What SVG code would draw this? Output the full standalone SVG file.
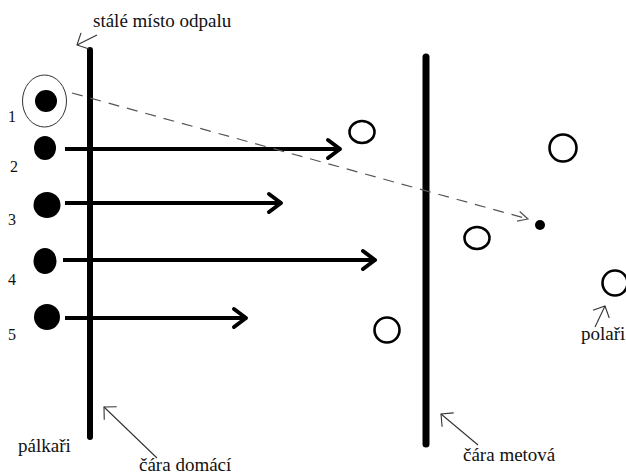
<svg xmlns="http://www.w3.org/2000/svg" width="626" height="474" viewBox="0 0 626 474">
<style>
.lbl{font-size:19px}
.num{font-size:16px}
.bat{fill:#000}
.fld{fill:none;stroke:#000;stroke-width:2.6}
.bar{stroke:#000;stroke-linecap:round}
.hit{stroke:#000;stroke-width:4;fill:none}
.note{stroke:#333;stroke-width:1.1;fill:none}
.dash{stroke:#555;stroke-width:1.2;stroke-dasharray:11 8;fill:none}
</style>
<defs>
<marker id="thick" viewBox="-16 -12 20 24" markerWidth="20" markerHeight="24" refX="0" refY="0" markerUnits="userSpaceOnUse" orient="auto">
<path d="M-12,-9 L0,0 L-12,9" fill="none" stroke="#000" stroke-width="4" stroke-linecap="round" stroke-linejoin="round"/>
</marker>
<marker id="thin" viewBox="-12 -12 14 24" markerWidth="14" markerHeight="24" refX="0" refY="0" markerUnits="userSpaceOnUse" orient="auto">
<path d="M-9,-9 L0,0 L-9,9" fill="none" stroke="#333" stroke-width="1.1"/>
</marker>
<marker id="dashhead" viewBox="-12 -8 14 16" markerWidth="14" markerHeight="16" refX="0" refY="0" markerUnits="userSpaceOnUse" orient="auto">
<path d="M-10,-5 L0,0 L-10,5" fill="none" stroke="#555" stroke-width="1.2"/>
</marker>
</defs>

<g id="lines">
<line id="cara-domaci" class="bar" x1="90" y1="50" x2="90" y2="437" stroke-width="6"/>
<line id="cara-metova" class="bar" x1="426" y1="57" x2="426" y2="444" stroke-width="7"/>
</g>

<g font-family="Liberation Serif, DejaVu Serif, serif" fill="#111">
<g id="batter-1">
<ellipse cx="44.5" cy="101" rx="22" ry="26" fill="none" stroke="#333" stroke-width="1"/>
<ellipse class="bat" cx="46" cy="101" rx="11" ry="11"/>
<text class="num" x="8" y="122">1</text>
</g>
<g id="batter-2">
<ellipse class="bat" cx="45" cy="148" rx="11" ry="12"/>
<text class="num" x="10" y="172">2</text>
</g>
<g id="batter-3">
<ellipse class="bat" cx="47" cy="205" rx="13.5" ry="13"/>
<text class="num" x="8" y="225">3</text>
</g>
<g id="batter-4">
<ellipse class="bat" cx="45" cy="261" rx="11.5" ry="13"/>
<text class="num" x="8" y="285">4</text>
</g>
<g id="batter-5">
<ellipse class="bat" cx="47" cy="317" rx="13" ry="13"/>
<text class="num" x="8" y="340">5</text>
</g>
</g>

<g id="fielders">
<ellipse class="fld" cx="362" cy="132" rx="12.5" ry="11"/>
<ellipse class="fld" cx="563" cy="148" rx="13.5" ry="13.5"/>
<ellipse class="fld" cx="477" cy="238" rx="12.5" ry="11"/>
<ellipse class="fld" cx="387" cy="330" rx="12.5" ry="12.5"/>
<ellipse class="fld" cx="615" cy="283" rx="12.5" ry="12.5"/>
</g>

<g id="ball">
<circle cx="540" cy="225" r="5" fill="#000"/>
</g>

<g id="connectors">
<line class="hit" x1="65" y1="149" x2="340" y2="149" marker-end="url(#thick)"/>
<line class="hit" x1="65" y1="203" x2="281" y2="203" marker-end="url(#thick)"/>
<line class="hit" x1="63" y1="260" x2="375" y2="260" marker-end="url(#thick)"/>
<line class="hit" x1="65" y1="318" x2="246" y2="318" marker-end="url(#thick)"/>
<line class="dash" x1="72" y1="93" x2="528" y2="219" marker-end="url(#dashhead)"/>
<line class="note" x1="97" y1="35" x2="77" y2="45" marker-end="url(#thin)"/>
<line class="note" x1="157" y1="458" x2="104" y2="407" marker-end="url(#thin)"/>
<line class="note" x1="478" y1="445" x2="441" y2="414" marker-end="url(#thin)"/>
<line class="note" x1="595" y1="327" x2="605" y2="306" marker-end="url(#thin)"/>
</g>

<g id="labels" font-family="Liberation Serif, DejaVu Serif, serif" fill="#111">
<text class="lbl" x="93" y="27">stálé místo odpalu</text>
<text class="lbl" x="18" y="452">pálkaři</text>
<text class="lbl" x="139" y="471">čára domácí</text>
<text class="lbl" x="463" y="461">čára metová</text>
<text class="lbl" x="581" y="340">polaři</text>
</g>
</svg>
